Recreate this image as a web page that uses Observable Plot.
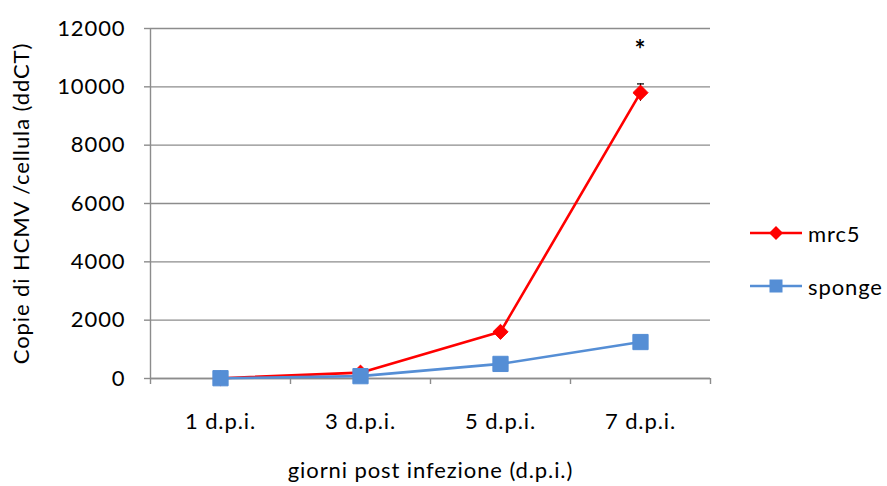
<!DOCTYPE html>
<html>
<head>
<meta charset="utf-8">
<script src="https://cdn.jsdelivr.net/npm/d3@7"></script>
<script src="https://cdn.jsdelivr.net/npm/@observablehq/plot@0.6"></script>
<style>
  html, body { margin: 0; padding: 0; background: #fff; }
  #wrap { position: relative; width: 887px; height: 486px; font-family: Lato, "Open Sans", sans-serif; }
  #wrap svg text { letter-spacing: 0.9px; }
  #legend { position: absolute; left: 750px; top: 218px; font-size: 22px; letter-spacing: 0.9px; color: #000; }
  .item { display: flex; align-items: center; height: 30px; margin-bottom: 23px; }
  .item svg { margin-right: 6px; }
</style>
</head>
<body>
<div id="wrap"></div>
<script>
const categories = ["1 d.p.i.", "3 d.p.i.", "5 d.p.i.", "7 d.p.i."];
const mrc5 = [10, 200, 1600, 9800];
const mrc5Err = [0, 0, 0, 300];
const sponge = [10, 80, 500, 1250];
const yTicks = [0, 2000, 4000, 6000, 8000, 10000, 12000];
const seriesNames = ["mrc5", "sponge"];
const seriesColors = ["#FF0000", "#558ED5"];
const significance = [{cat: "7 d.p.i.", value: 11250, label: "*"}];

const idx = c => categories.indexOf(c) + 1;
const mrcData = categories.map((c, i) => ({x: i + 1, y: mrc5[i], err: mrc5Err[i]}));
const spData = categories.map((c, i) => ({x: i + 1, y: sponge[i]}));
const errData = mrcData.filter(d => d.err > 0);
const bounds = d3.range(categories.length + 1).map(i => i + 0.5);

const capSymbol = {
  draw(ctx, size) {
    const r = Math.sqrt(size / Math.PI);
    ctx.moveTo(-r, 0); ctx.lineTo(r, 0);
  }
};

const chart = Plot.plot({
  width: 887,
  height: 486,
  marginLeft: 150,
  marginRight: 177,
  marginTop: 28,
  marginBottom: 108,
  style: {fontFamily: "Lato, 'Open Sans', sans-serif", fontSize: "22px", color: "#000", background: "#fff"},
  x: {type: "linear", domain: [0.5, categories.length + 0.5]},
  y: {domain: [0, 12000]},
  marks: [
    Plot.ruleY(yTicks, {stroke: "#8c8c8c", strokeWidth: 1.4}),
    Plot.ruleX([0.5], {y1: 0, y2: 12000, stroke: "#8c8c8c", strokeWidth: 1.4}),
    Plot.axisY({ticks: yTicks, tickSize: 6, tickPadding: 19, tickFormat: d => String(d), stroke: "#8c8c8c", strokeWidth: 1.4, fontSize: 22,
      label: "Copie di HCMV /cellula (ddCT)", labelAnchor: "center", labelArrow: "none", labelOffset: 137}),
    Plot.axisX({ticks: bounds, tickSize: 6, tickFormat: () => "", stroke: "#8c8c8c", strokeWidth: 1.4, label: null}),
    Plot.axisX({ticks: categories.map((c, i) => i + 1), tickSize: 0, tickPadding: 35, tickFormat: i => categories[i - 1], fontSize: 22,
      label: "giorni post infezione (d.p.i.)", labelAnchor: "center", labelArrow: "none", labelOffset: 99}),
    Plot.ruleY([0], {stroke: "#8c8c8c", strokeWidth: 1.4}),
    Plot.ruleX(errData, {x: "x", y1: d => d.y - d.err, y2: d => d.y + d.err, stroke: "#000", strokeWidth: 1}),
    Plot.dot(errData, {x: "x", y: d => d.y + d.err, symbol: capSymbol, r: 3.5, stroke: "#000", strokeWidth: 1.2}),
    Plot.line(mrcData, {x: "x", y: "y", stroke: seriesColors[0], strokeWidth: 2.6}),
    Plot.dot(mrcData, {x: "x", y: "y", symbol: "diamond2", r: 6.8, fill: seriesColors[0], stroke: seriesColors[0], strokeWidth: 1}),
    Plot.line(spData, {x: "x", y: "y", stroke: seriesColors[1], strokeWidth: 2.6}),
    Plot.dot(spData, {x: "x", y: "y", symbol: "square", r: 8.6, fill: seriesColors[1], stroke: seriesColors[1], strokeWidth: 1}),
    Plot.text(significance, {x: d => idx(d.cat), y: "value", text: "label", fontSize: 26, fontWeight: "bold", fill: "#000"})
  ]
});

const wrap = document.getElementById("wrap");
wrap.appendChild(chart);

const legend = document.createElement("div");
legend.id = "legend";
const shapes = [
  c => `<path d="M26,8 L33,15 L26,22 L19,15 Z" fill="${c}"/>`,
  c => `<rect x="19.5" y="8.5" width="13" height="13" fill="${c}"/>`
];
seriesNames.forEach((name, i) => {
  const it = document.createElement("div");
  it.className = "item";
  it.innerHTML = `<svg width="52" height="30"><line x1="0" y1="15" x2="52" y2="15" stroke="${seriesColors[i]}" stroke-width="2.6"/>${shapes[i](seriesColors[i])}</svg><span>${name}</span>`;
  legend.appendChild(it);
});
wrap.appendChild(legend);
</script>
</body>
</html>
